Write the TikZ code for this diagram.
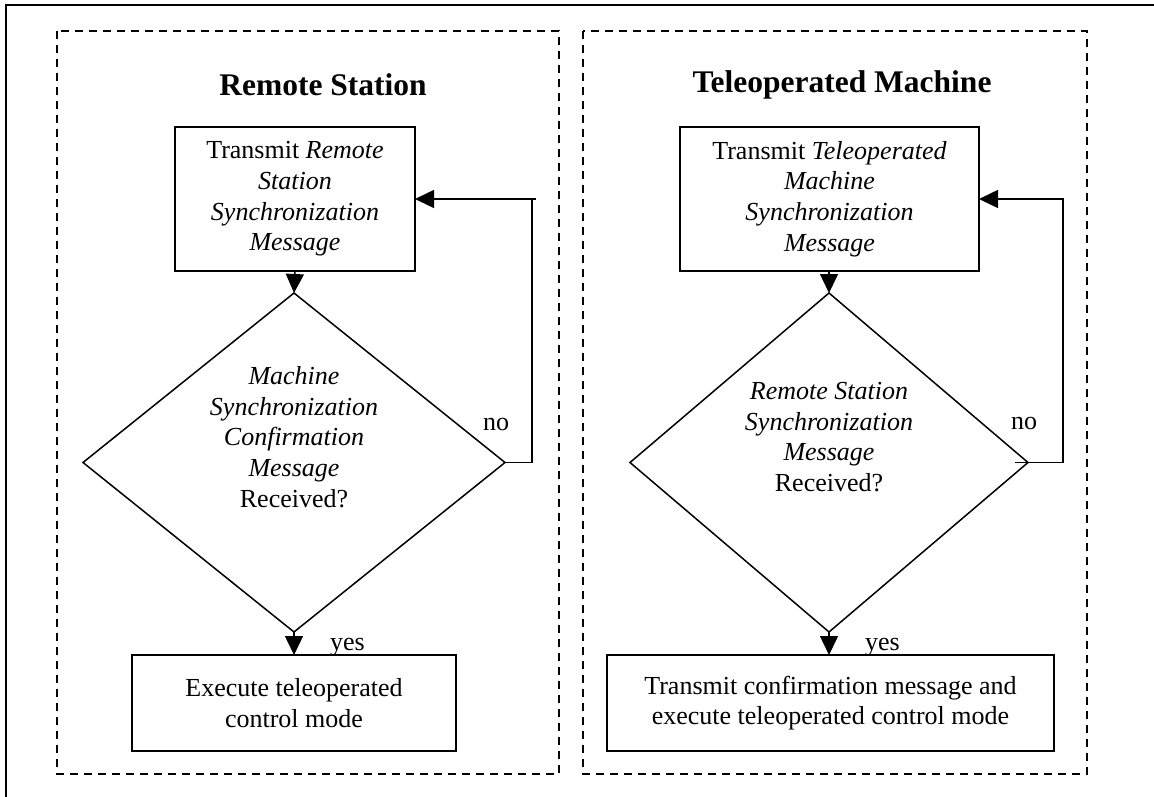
\documentclass[tikz,border=0pt]{standalone}
\usepackage{fontspec}
\setmainfont{Liberation Serif}
\usetikzlibrary{shapes.geometric,arrows.meta}

\begin{document}
\begin{tikzpicture}[x=1pt,y=-1pt,
  every node/.style={outer sep=0pt, inner sep=0pt},
  bodytext/.style={font=\fontsize{26}{30.7}\selectfont, align=center},
  titletext/.style={font=\fontsize{31.5}{36}\selectfont\bfseries},
  procbox/.style={draw, line width=1.6pt, rectangle, bodytext},
  decision/.style={draw, line width=1.5pt, diamond},
  lane/.style={line width=1.5pt, dash pattern=on 8pt off 6pt},
  flow/.style={line width=1.5pt, -{Triangle[length=19pt,width=18pt]}},
  plainline/.style={line width=1.5pt},
  lbl/.style={font=\fontsize{26}{30.7}\selectfont, anchor=base west}
]
\useasboundingbox (0,0) rectangle (1154,797);

% outer frame (runs past the right and bottom edges)
\begin{scope}
  \clip (0,0) rectangle (1154,797);
  \draw[line width=2pt] (6,5) rectangle (1170,820);
\end{scope}

% two dashed lanes
\draw[lane] (57,31) rectangle (559,774);
\draw[lane] (583,31) rectangle (1087,774);

% lane titles
\node[titletext] (t1) at (323,85) {Remote Station};
\node[titletext] (t2) at (842,85) {Teleoperated Machine};

% ---------- Remote Station ----------
\node[procbox, minimum width=240pt, minimum height=144pt] (b1) at (295,199)
  {Transmit \textit{Remote}\\\textit{Station}\\\textit{Synchronization}\\\textit{Message}};
\node[decision, minimum width=422pt, minimum height=339pt] (d1) at (294,462.5) {};
\node[bodytext] (d1t) at (294,437)
  {\textit{Machine}\\\textit{Synchronization}\\\textit{Confirmation}\\\textit{Message}\\Received?};
\node[procbox, minimum width=324pt, minimum height=96pt] (b3) at (294,703)
  {Execute teleoperated\\control mode};

\draw[flow] (b1.south) -- (d1.north);
\draw[flow] (d1.east) -- ++(27,0) |- (b1.east);
% small overshoot of the loop's top corner
\draw[plainline] (b1.east -| d1.east) ++(26,0) -- ++(5,0);
\draw[flow] (d1.south) -- (b3.north);
\node[lbl] (no1) at (483,430) {no};
\node[lbl] (yes1) at (330,650) {yes};

% ---------- Teleoperated Machine ----------
\node[procbox, minimum width=299pt, minimum height=144pt] (b2) at (829.5,199)
  {Transmit \textit{Teleoperated}\\\textit{Machine}\\\textit{Synchronization}\\\textit{Message}};
\node[decision, minimum width=398pt, minimum height=339pt] (d2) at (829,462.5) {};
\node[bodytext] (d2t) at (829,437)
  {\textit{Remote Station}\\\textit{Synchronization}\\\textit{Message}\\Received?};
\node[procbox, minimum width=447pt, minimum height=96pt] (b4) at (830.5,703)
  {Transmit confirmation message and\\execute teleoperated control mode};

\draw[flow] (b2.south -| d2.north) -- (d2.north);
\draw[flow] (d2.east) -- ++(35,0) |- (b2.east);
% the "no" line starts a little inside the diamond's right corner
\draw[plainline] (d2.east) -- ++(-13,0);
\draw[flow] (d2.south) -- (d2.south |- b4.north);
\node[lbl] (no2) at (1011,429) {no};
\node[lbl] (yes2) at (865,650) {yes};
\end{tikzpicture}
\end{document}
